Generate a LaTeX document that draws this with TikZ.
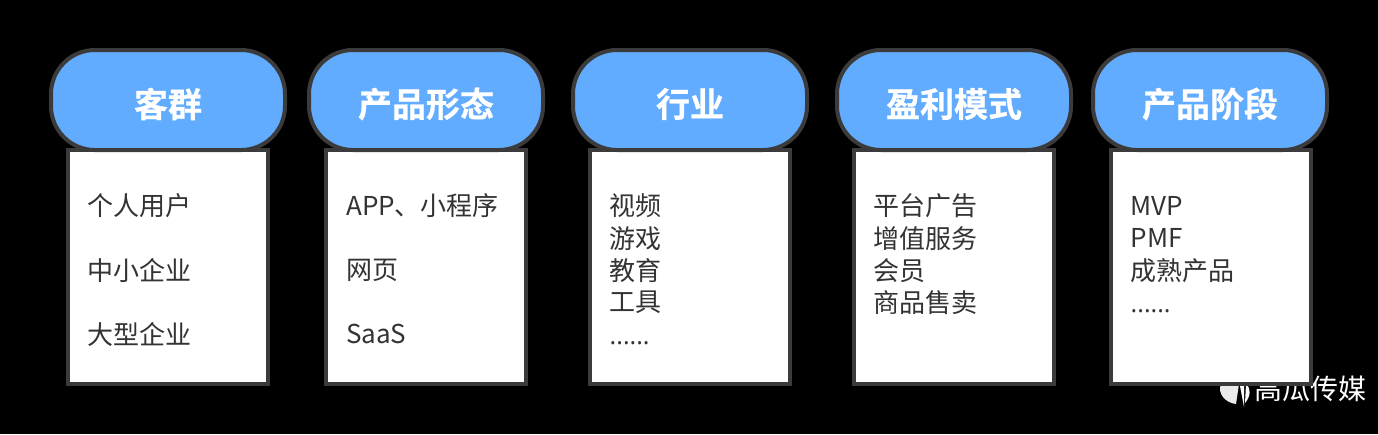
\documentclass[tikz,border=0pt]{standalone}
\usepackage{fontspec}
\setmainfont{Noto Sans CJK SC}[BoldFont={Noto Sans CJK SC Bold},BoldFeatures={FakeBold=0.6}]
\newfontfamily\dotfont{Open Sans}
\definecolor{pillblue}{HTML}{62ACFF}
\definecolor{edge}{HTML}{3B3B3B}
\definecolor{ink}{HTML}{333333}
\tikzset{
  x=1pt,y=-1pt,
  pill/.style={draw=edge,line width=4pt,fill=pillblue,rounded corners=44pt,minimum width=234pt,minimum height=100pt,inner sep=0pt},
  head/.style={inner sep=0pt,text=white,font=\fontsize{34}{34}\selectfont\bfseries},
  panel/.style={draw=edge,line width=4pt,fill=white,minimum width=200pt,minimum height=234pt,inner sep=0pt},
  item/.style={anchor=west,inner sep=0pt,text=ink,font=\fontsize{26}{26}\selectfont},
  dots/.style={anchor=base west,inner sep=0pt,text=ink,font=\fontsize{25}{25}\dotfont},
  wmark/.style={anchor=west,inner sep=0pt,text=white,font=\fontsize{28}{28}\selectfont},
}
\begin{document}
\begin{tikzpicture}
\fill[black] (0,0) rectangle (1378,434);
\useasboundingbox (0,0) rectangle (1378,434);
% watermark
\node[wmark] (wm) at (1254,389) {高瓜传媒};
\fill[white!92!black] (1221,384) .. controls (1217,394) and (1226,403) .. (1236,404) -- (1239,384) -- cycle;
\fill[white] (1240,386) -- (1244,386) -- (1244,407) -- cycle;
\fill[white] (1246,384) .. controls (1251,388) and (1251,396) .. (1245,403) -- cycle;
% panels
\node[panel] (p1) at (168,267) {};
\node[panel] (p2) at (426,267) {};
\node[panel] (p3) at (690,267) {};
\node[panel] (p4) at (954,267) {};
\node[panel] (p5) at (1210.5,267) {};
% headers
\node[pill] (h1) at (168,100) {};
\node[pill] (h2) at (426,100) {};
\node[pill] (h3) at (690,100) {};
\node[pill] (h4) at (954,100) {};
\node[pill] (h5) at (1210,100) {};
\node[head] (t1) at (168,104) {客群};
\node[head] (t2) at (426,104) {产品形态};
\node[head] (t3) at (690,104) {行业};
\node[head] (t4) at (954,104) {盈利模式};
\node[head] (t5) at (1210,104) {产品阶段};
% column 1
\node[item] (a1) at (87.5,206) {个人用户};
\node[item] (a2) at (87.5,270.5) {中小企业};
\node[item] (a3) at (87.5,334) {大型企业};
% column 2
\node[item] (b1) at (346,206) {APP、小程序};
\node[item] (b2) at (346,270.5) {网页};
\node[item] (b3) at (346,334) {SaaS};
% column 3
\node[item] (c1) at (609.5,206) {视频};
\node[item] (c2) at (609.5,238.5) {游戏};
\node[item] (c3) at (609.5,270.5) {教育};
\node[item] (c4) at (609.5,302.5) {工具};
\node[dots] (c5) at (609.5,344) {......};
% column 4
\node[item] (d1) at (873.5,206) {平台广告};
\node[item] (d2) at (873.5,238.5) {增值服务};
\node[item] (d3) at (873.5,270.5) {会员};
\node[item] (d4) at (873.5,302.5) {商品售卖};
% column 5
\node[item] (e1) at (1130.5,206) {MVP};
\node[item] (e2) at (1130.5,238) {PMF};
\node[item] (e3) at (1130.5,270.5) {成熟产品};
\node[dots] (e4) at (1130.5,312) {......};
\end{tikzpicture}
\end{document}
